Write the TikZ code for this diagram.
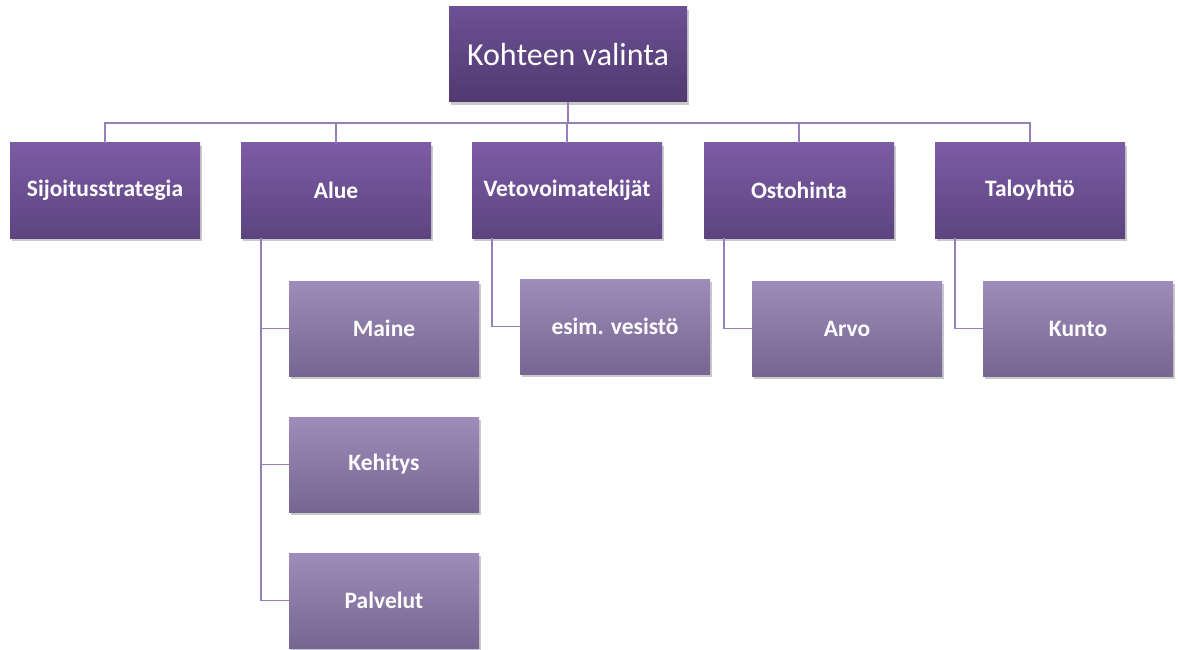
\documentclass[tikz,border=0pt]{standalone}
\usepackage{fontspec}
\setmainfont{Carlito}
\usetikzlibrary{shadows}
\definecolor{rootTop}{RGB}{108,80,148}
\definecolor{rootBot}{RGB}{80,58,112}
\definecolor{midTop}{RGB}{124,92,165}
\definecolor{midBot}{RGB}{92,68,128}
\definecolor{lowTop}{RGB}{158,140,186}
\definecolor{lowBot}{RGB}{118,102,145}
\definecolor{linkcol}{RGB}{150,128,188}
\tikzset{
  box/.style={minimum width=190pt,minimum height=95pt,inner sep=2pt,text=white,
    drop shadow={shadow xshift=1.5pt,shadow yshift=-3pt,opacity=0.3,fill=black!70}},
  rootbox/.style={box,minimum width=238pt,top color=rootTop,bottom color=rootBot,
    font=\fontsize{32}{38}\selectfont},
  midbox/.style={box,top color=midTop,bottom color=midBot,font=\fontsize{23.5}{28}\selectfont\bfseries},
  lowbox/.style={box,top color=lowTop,bottom color=lowBot,font=\fontsize{23.5}{28}\selectfont\bfseries},
  link/.style={draw=linkcol,line width=1.8pt}
}
\begin{document}
\begin{tikzpicture}[x=1pt,y=-1pt]
        \useasboundingbox (0,0) rectangle (1178,650);
        %radice
        \node[rootbox] (root) at (568,54.5) {Kohteen valinta};
        %primo livello
        \node[midbox] (strat) at (105,190.5) {Sijoitusstrategia};
        \node[midbox] (alue) at (336,190.5) {Alue};
        \node[midbox] (veto) at (567,190.5) {Vetovoimatekijät};
        \node[midbox] (osto) at (799,190.5) {Ostohinta};
        \node[midbox] (talo) at (1030,190.5) {Taloyhtiö};
        %secondo livello
        \node[lowbox] (maine) at (384,328.5) {Maine};
        \node[lowbox] (kehitys) at (384,464.5) {Kehitys};
        \node[lowbox] (palvelut) at (384,600.5) {Palvelut};
        \node[lowbox] (vesisto) at (615,326.5) {esim. vesistö};
        \node[lowbox] (arvo) at (847,328.5) {Arvo};
        \node[lowbox] (kunto) at (1078,328.5) {Kunto};
        %collegamenti
        \foreach \n in {strat,alue,veto,osto,talo}
          \draw[link] (root.south) -- ++(0,21) -| (\n.north);
        \foreach \n in {maine,kehitys,palvelut}
          \draw[link] ([xshift=20pt]alue.south west) |- (\n.west);
        \draw[link] ([xshift=20pt]veto.south west) |- (vesisto.west);
        \draw[link] ([xshift=20pt]osto.south west) |- (arvo.west);
        \draw[link] ([xshift=20pt]talo.south west) |- (kunto.west);
    \end{tikzpicture}
\end{document}
